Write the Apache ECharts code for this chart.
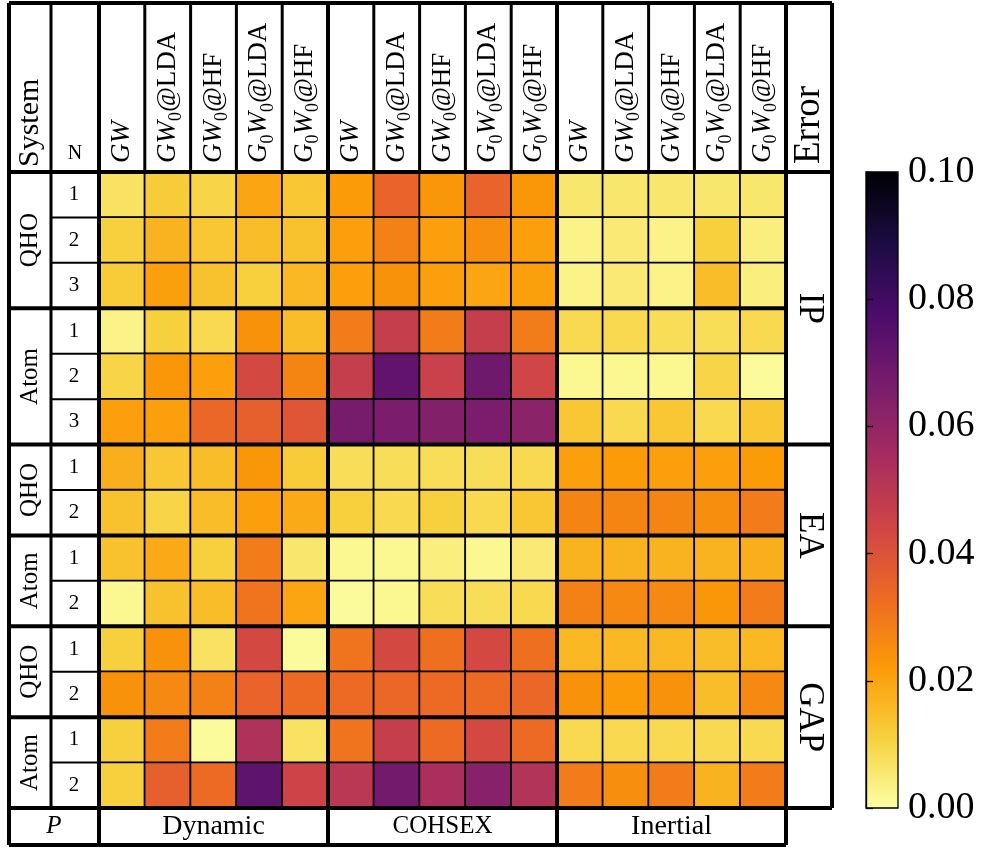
<!DOCTYPE html>
<html>
<head>
<meta charset="utf-8">
<script src="https://cdn.jsdelivr.net/npm/echarts@6/dist/echarts.min.js"></script>
<style>
  html, body { margin: 0; padding: 0; background: #fff; }
  #chart { width: 985px; height: 848px; }
</style>
</head>
<body>
<div id="chart"></div>
<script>
// ---- data -------------------------------------------------------------
const methods = ['GW', 'GW0@LDA', 'GW0@HF', 'G0W0@LDA', 'G0W0@HF'];
const propagators = ['Dynamic', 'COHSEX', 'Inertial'];
const properties = ['IP', 'EA', 'GAP'];
const systems = ['QHO', 'Atom'];
const colorbarTicks = [0, 0.02, 0.04, 0.06, 0.08, 0.10];

// error per N (rows) and propagator x method (15 columns: Dynamic | COHSEX | Inertial)
const ipQHO = [
  [0.007, 0.012, 0.010, 0.020, 0.013,  0.022, 0.035, 0.023, 0.035, 0.023,  0.006, 0.006, 0.006, 0.006, 0.006],
  [0.011, 0.017, 0.013, 0.015, 0.014,  0.021, 0.028, 0.021, 0.025, 0.021,  0.003, 0.005, 0.003, 0.011, 0.004],
  [0.012, 0.021, 0.014, 0.011, 0.016,  0.021, 0.024, 0.021, 0.020, 0.021,  0.003, 0.005, 0.003, 0.015, 0.004]
];
const ipAtom = [
  [0.003, 0.011, 0.009, 0.024, 0.015,  0.029, 0.047, 0.029, 0.047, 0.029,  0.009, 0.009, 0.008, 0.008, 0.009],
  [0.010, 0.023, 0.021, 0.043, 0.027,  0.047, 0.072, 0.046, 0.069, 0.044,  0.002, 0.002, 0.002, 0.010, 0.001],
  [0.021, 0.021, 0.034, 0.036, 0.039,  0.067, 0.066, 0.064, 0.066, 0.062,  0.013, 0.009, 0.013, 0.009, 0.013]
];
const eaQHO = [
  [0.018, 0.013, 0.015, 0.023, 0.012,  0.008, 0.008, 0.008, 0.008, 0.009,  0.021, 0.022, 0.021, 0.021, 0.022],
  [0.014, 0.010, 0.015, 0.021, 0.019,  0.011, 0.009, 0.011, 0.009, 0.013,  0.027, 0.027, 0.027, 0.025, 0.029]
];
const eaAtom = [
  [0.014, 0.019, 0.011, 0.029, 0.006,  0.002, 0.002, 0.004, 0.002, 0.005,  0.017, 0.017, 0.017, 0.017, 0.018],
  [0.002, 0.014, 0.015, 0.031, 0.020,  0.001, 0.002, 0.008, 0.008, 0.009,  0.028, 0.026, 0.026, 0.023, 0.029]
];
const gapQHO = [
  [0.011, 0.024, 0.007, 0.043, 0.001,  0.031, 0.043, 0.032, 0.043, 0.032,  0.016, 0.016, 0.016, 0.015, 0.016],
  [0.024, 0.026, 0.028, 0.035, 0.033,  0.033, 0.034, 0.033, 0.033, 0.034,  0.024, 0.022, 0.024, 0.015, 0.026]
];
const gapAtom = [
  [0.011, 0.029, 0.001, 0.053, 0.007,  0.031, 0.047, 0.033, 0.043, 0.033,  0.009, 0.009, 0.009, 0.009, 0.009],
  [0.011, 0.036, 0.033, 0.073, 0.045,  0.050, 0.068, 0.054, 0.063, 0.052,  0.029, 0.025, 0.029, 0.017, 0.029]
];

// ---- table structure ----------------------------------------------------
const blocks = [
  { prop: 'IP',  sys: 'QHO',  rows: ipQHO },
  { prop: 'IP',  sys: 'Atom', rows: ipAtom },
  { prop: 'EA',  sys: 'QHO',  rows: eaQHO },
  { prop: 'EA',  sys: 'Atom', rows: eaAtom },
  { prop: 'GAP', sys: 'QHO',  rows: gapQHO },
  { prop: 'GAP', sys: 'Atom', rows: gapAtom }
];

const colKeys = [];
propagators.forEach(p => methods.forEach(m => colKeys.push(p + ' ' + m)));

const rowKeys = [], rowN = [], cells = [];
blocks.forEach(b => {
  b.startRow = rowKeys.length;
  b.rows.forEach((vals, n) => {
    const r = rowKeys.length;
    rowKeys.push(b.prop + ' ' + b.sys + ' ' + (n + 1));
    rowN.push(String(n + 1));
    vals.forEach((v, c) => cells.push([c, r, v]));
  });
  b.endRow = rowKeys.length;
});

// reversed inferno colour map (0 -> pale yellow, max -> black)
const inferno = ['#000004', '#1b0c42', '#4b0c6b', '#781c6d', '#a52c60',
                 '#cf4446', '#ed6925', '#fb9a06', '#f7d03c', '#fcffa4'];
const palette = inferno.slice().reverse();

const FONT = 'Liberation Serif';

// method names: G and W in italics, the 0 as a subscript
function methodLabel(name) {
  const at = name.indexOf('@');
  const head = at < 0 ? name : name.slice(0, at);
  const tail = at < 0 ? '' : name.slice(at);
  let s = '';
  for (const ch of head) s += (ch === '0') ? '{sub|0}' : '{it|' + ch + '}';
  if (tail) s += '{rm|' + tail + '}';
  return s;
}

const chart = echarts.init(document.getElementById('chart'), null, { renderer: 'canvas' });

chart.setOption({
  animation: false,
  backgroundColor: '#fff',
  grid: [
    { left: 99, top: 172, width: 687, height: 636 },
    { left: 866, top: 172, width: 32, height: 636, show: true,
      borderColor: '#000', borderWidth: 1.3, backgroundColor: 'transparent', z: 10 }
  ],
  xAxis: [
    {
      gridIndex: 0, type: 'category', position: 'top', data: colKeys,
      axisLine: { show: false }, axisTick: { show: false }, splitLine: { show: false },
      axisLabel: {
        interval: 0, rotate: -90, margin: 9,
        formatter: (v, i) => methodLabel(methods[i % methods.length]),
        rich: {
          it:  { fontFamily: FONT, fontStyle: 'italic', fontSize: 27, lineHeight: 35, color: '#000', verticalAlign: 'middle' },
          rm:  { fontFamily: FONT, fontSize: 27, lineHeight: 35, color: '#000', verticalAlign: 'middle' },
          sub: { fontFamily: FONT, fontSize: 18, lineHeight: 18, color: '#000', verticalAlign: 'bottom' }
        }
      }
    },
    { gridIndex: 1, type: 'value', show: false, min: 0, max: 1 }
  ],
  yAxis: [
    {
      gridIndex: 0, type: 'category', inverse: true, data: rowKeys,
      axisLine: { show: false }, axisTick: { show: false }, splitLine: { show: false },
      axisLabel: {
        interval: 0, margin: 25, align: 'center',
        fontFamily: FONT, fontSize: 21, color: '#000',
        formatter: (v, i) => rowN[i]
      }
    },
    {
      gridIndex: 1, type: 'value', position: 'right',
      min: colorbarTicks[0], max: colorbarTicks[colorbarTicks.length - 1], interval: 0.02,
      z: 10,
      axisLine: { show: true, lineStyle: { color: '#000', width: 1.3 } },
      axisTick: { show: true, length: 7, lineStyle: { color: '#000', width: 1.3 } },
      splitLine: { show: false },
      axisLabel: {
        margin: 10, fontFamily: FONT, fontSize: 38, color: '#000',
        formatter: v => v.toFixed(2)
      }
    }
  ],
  visualMap: {
    type: 'continuous', min: 0, max: 0.1, seriesIndex: 0, dimension: 2,
    calculable: false, realtime: false, hoverLink: false,
    left: 866, top: 172, itemWidth: 32, itemHeight: 636, padding: 0,
    inRange: { color: palette }
  },
  series: [{
    type: 'heatmap', xAxisIndex: 0, yAxisIndex: 0, data: cells,
    itemStyle: { borderColor: '#000', borderWidth: 1.8 },
    emphasis: { disabled: true }, silent: true
  }]
});

// ---- table frame, group separators and labels ----------------------------
const c0 = chart.convertToPixel({ gridIndex: 0 }, [0, 0]);
const c1 = chart.convertToPixel({ gridIndex: 0 }, [1, 1]);
const bw = c1[0] - c0[0], bh = c1[1] - c0[1];
const colX = i => c0[0] - bw / 2 + i * bw;
const rowY = j => c0[1] - bh / 2 + j * bh;

const TL = 9, TS = 51, TR = 832, TT = 3, TB = 845;
const nCols = colKeys.length, nRows = rowKeys.length;
const YH = rowY(0), YD = rowY(nRows), XD = colX(0), XE = colX(nCols);

const els = [];
const line = (x1, y1, x2, y2, w) => els.push({
  type: 'line', silent: true, z: 100,
  shape: { x1, y1, x2, y2 }, style: { stroke: '#000', lineWidth: w }
});
const text = (x, y, str, size, opt) => els.push(Object.assign({
  type: 'text', silent: true, z: 100, x, y,
  style: Object.assign({ text: str, fontFamily: FONT, fontSize: size, fill: '#000',
                         align: 'center', verticalAlign: 'middle' }, (opt && opt.style) || {})
}, opt && opt.rotation !== undefined ? { rotation: opt.rotation } : {}));

// header column separators
for (let i = 1; i < nCols; i++) line(colX(i), TT, colX(i), YH, 3);
// row separators in the N column
blocks.forEach(b => { for (let j = b.startRow + 1; j < b.endRow; j++) line(TS, rowY(j), XD, rowY(j), 2); });
// system separators (inside a property) and property separators
blocks.forEach((b, k) => {
  if (k === 0) return;
  const y = rowY(b.startRow);
  const newProp = blocks[k - 1].prop !== b.prop;
  line(TL, y, newProp ? TR : XE, y, 4);
});
// propagator separators through the whole height
for (let g = 1; g < propagators.length; g++) {
  const x = colX(g * methods.length);
  line(x, TT, x, TB, 4);
}
// outer frame
line(TL, TT, TR, TT, 4);
line(TL, YH, TR, YH, 4);
line(TL, YD, TR, YD, 4);
line(TL, TB, XE, TB, 4);
line(TL, TT, TL, TB, 4);
line(TS, TT, TS, YD, 3);
line(XD, TT, XD, TB, 4);
line(XE, TT, XE, TB, 4);
line(TR, TT, TR, YD, 4);

// header texts
text((TL + TS) / 2, YH - 5, 'System', 30, { rotation: Math.PI / 2, style: { align: 'left' } });
text((TS + XD) / 2, YH - 18, 'N', 20);
text((XE + TR) / 2, YH - 8, 'Error', 37, { rotation: Math.PI / 2, style: { align: 'left' } });

// system labels on the left, property labels on the right
blocks.forEach(b => {
  text((TL + TS) / 2, (rowY(b.startRow) + rowY(b.endRow)) / 2, b.sys, 25, { rotation: Math.PI / 2 });
});
properties.forEach(p => {
  const bs = blocks.filter(b => b.prop === p);
  const y = (rowY(bs[0].startRow) + rowY(bs[bs.length - 1].endRow)) / 2;
  text((XE + TR) / 2, y, p, 35, { rotation: -Math.PI / 2 });
});

// footer: propagator names
const yF = (YD + TB) / 2;
text((TL + XD) / 2, yF, 'P', 25, { style: { fontStyle: 'italic' } });
propagators.forEach((p, g) => {
  const x = (colX(g * methods.length) + colX((g + 1) * methods.length)) / 2;
  text(x, yF, p, p === 'COHSEX' ? 25 : 28);
});

chart.setOption({ graphic: { elements: els } });
</script>
</body>
</html>
